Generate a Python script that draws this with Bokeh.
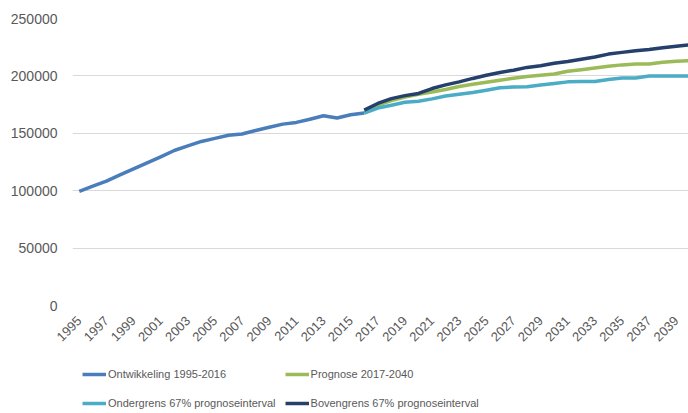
import math
from bokeh.plotting import figure
from bokeh.layouts import column
from bokeh.models import Legend, LegendItem, FixedTicker, Range1d, NumeralTickFormatter
from bokeh.embed import file_html
from bokeh.resources import INLINE

# ---- data ----
hist_years = list(range(1995, 2017))
ontwikkeling = [99500, 104000, 108300, 113800, 119000, 124300, 129500, 135000, 139000,
                142900, 145600, 148300, 149400, 152500, 155300, 158000, 159500, 162300,
                165300, 163300, 166200, 167600]

fc_years = list(range(2016, 2041))
prognose = [167600, 174500, 178500, 181500, 184000, 186000, 188200, 190700, 192700,
            194500, 196300, 198000, 199400, 200500, 201600, 204000, 205300, 206800,
            208400, 209600, 210300, 210400, 211800, 212800, 213200]
ondergrens = [167600, 172000, 174500, 177000, 178000, 180000, 182500, 184000, 185500,
              187500, 189700, 190300, 190500, 192000, 193400, 194800, 195100, 195200,
              196800, 198100, 198100, 200000, 200000, 200000, 200000]
bovengrens = [170200, 176000, 180200, 182800, 184700, 189000, 192200, 194800, 197800,
              200500, 203000, 205000, 207400, 208800, 211000, 212500, 214500, 216500,
              219000, 220500, 221900, 223000, 224500, 225800, 227100]

x_ticks = list(range(1995, 2040, 2))
y_ticks = [0, 50000, 100000, 150000, 200000, 250000]

labels = ["Ontwikkeling 1995-2016", "Prognose 2017-2040",
          "Ondergrens 67% prognoseinterval", "Bovengrens 67% prognoseinterval"]
colors = ["#4a7ebb", "#9bbb59", "#4bacc6", "#24406b"]
LW = 3.5

series = [(hist_years, ontwikkeling), (fc_years, prognose),
          (fc_years, ondergrens), (fc_years, bovengrens)]

# ---- main chart ----
p = figure(width=688, height=353, output_backend="svg", toolbar_location=None,
           x_range=Range1d(1994.5, 2039.9), y_range=Range1d(0, 250000),
           min_border_left=72, min_border_top=18, min_border_right=0,
           min_border_bottom=48)
p.outline_line_color = None
p.background_fill_color = "white"
p.border_fill_color = "white"

p.xgrid.visible = False
p.ygrid.grid_line_color = "#d9d9d9"
p.ygrid.grid_line_width = 1

ya = p.yaxis[0]
ya.ticker = FixedTicker(ticks=y_ticks)
ya.formatter = NumeralTickFormatter(format="0")
ya.axis_line_color = None
ya.major_tick_line_color = None
ya.minor_tick_line_color = None
ya.major_tick_out = 0
ya.major_label_standoff = 15
ya.major_label_text_font = "Liberation Sans"
ya.major_label_text_font_size = "14px"
ya.major_label_text_color = "#595959"

xa = p.xaxis[0]
xa.ticker = FixedTicker(ticks=x_ticks)
xa.axis_line_color = None
xa.major_tick_line_color = None
xa.minor_tick_line_color = None
xa.major_tick_out = 0
xa.major_label_standoff = 13
xa.major_label_orientation = math.pi / 4
xa.major_label_text_font = "Liberation Sans"
xa.major_label_text_font_size = "13px"
xa.major_label_text_color = "#595959"

for (xs, ys), c in zip(series, colors):
    p.line(xs, ys, line_color=c, line_width=LW, line_join="round")

# ---- legend strip below the chart (same series, ranges keep them out of view) ----
q = figure(width=688, height=60, output_backend="svg", toolbar_location=None,
           x_axis_location=None, y_axis_location=None,
           min_border_left=72, min_border_right=0, min_border_top=0, min_border_bottom=0,
           x_range=Range1d(0, 1), y_range=Range1d(0, 1))
q.outline_line_color = None
q.xgrid.visible = False
q.ygrid.visible = False
q.border_fill_color = "white"

rs = [q.line(xs, ys, line_color=c, line_width=LW) for (xs, ys), c in zip(series, colors)]
# grid fills column by column: (Ontwikkeling, Ondergrens) | (Prognose, Bovengrens)
order = [0, 2, 1, 3]
legend = Legend(items=[LegendItem(label=labels[i], renderers=[rs[i]]) for i in order],
                ncols=2, location=(10, 0), padding=0, margin=0, spacing=9,
                glyph_width=24, glyph_height=20, label_height=20, label_standoff=2,
                label_text_font="Liberation Sans", label_text_font_size="11px",
                label_text_color="#595959", border_line_color=None,
                background_fill_alpha=0)
q.add_layout(legend)

layout = column(p, q, spacing=0)
open("out.html", "w").write(file_html(layout, INLINE))
